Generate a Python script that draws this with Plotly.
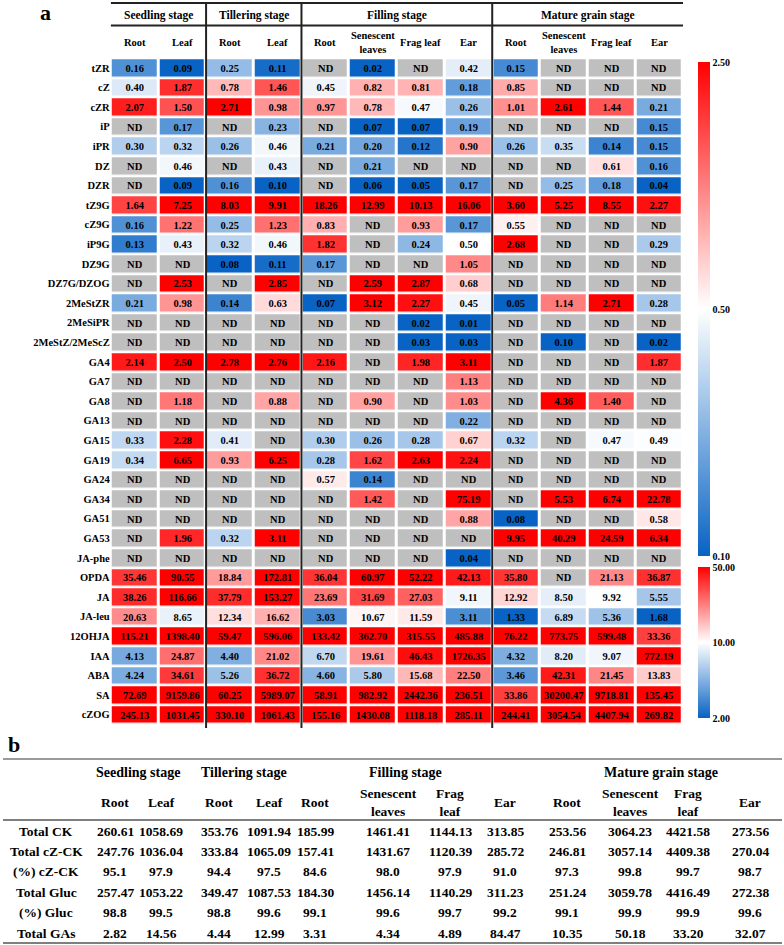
import math
import plotly.graph_objects as go

# ---------------- DATA ----------------
compounds = ["tZR", "cZ", "cZR", "iP", "iPR", "DZ", "DZR", "tZ9G", "cZ9G", "iP9G", "DZ9G",
             "DZ7G/DZOG", "2MeStZR", "2MeSiPR", "2MeStZ/2MeScZ", "GA4", "GA7", "GA8", "GA13",
             "GA15", "GA19", "GA24", "GA34", "GA51", "GA53", "JA-phe", "OPDA", "JA", "JA-leu",
             "12OHJA", "IAA", "ABA", "SA", "cZOG"]
ND = None
seedling_root = [0.16, 0.40, 2.07, ND, 0.30, ND, ND, 1.64, 0.16, 0.13, ND, ND, 0.21, ND, ND, 2.14, ND, ND, ND,
                 0.33, 0.34, ND, ND, ND, ND, ND, 35.46, 38.26, 20.63, 115.21, 4.13, 4.24, 72.69, 245.13]
seedling_leaf = [0.09, 1.87, 1.50, 0.17, 0.32, 0.46, 0.09, 7.25, 1.22, 0.43, ND, 2.53, 0.98, ND, ND, 2.50, ND, 1.18, ND,
                 2.28, 6.65, ND, ND, ND, 1.96, ND, 90.55, 116.66, 8.65, 1398.40, 24.87, 34.61, 9159.86, 1031.45]
tillering_root = [0.25, 0.78, 2.71, ND, 0.26, ND, 0.16, 8.03, 0.25, 0.32, 0.08, ND, 0.14, ND, ND, 2.78, ND, ND, ND,
                  0.41, 0.93, ND, ND, ND, 0.32, ND, 18.84, 37.79, 12.34, 59.47, 4.40, 5.26, 60.25, 330.10]
tillering_leaf = [0.11, 1.46, 0.98, 0.23, 0.46, 0.43, 0.10, 9.91, 1.23, 0.46, 0.11, 2.85, 0.63, ND, ND, 2.76, ND, 0.88, ND,
                  ND, 6.25, ND, ND, ND, 3.11, ND, 172.81, 153.27, 16.62, 596.06, 21.02, 36.72, 5989.07, 1061.43]
filling_root = [ND, 0.45, 0.97, ND, 0.21, ND, ND, 18.26, 0.83, 1.82, 0.17, ND, 0.07, ND, ND, 2.16, ND, ND, ND,
                0.30, 0.28, 0.57, ND, ND, ND, ND, 36.04, 23.69, 3.03, 133.42, 6.70, 4.60, 58.91, 155.16]
filling_senescent = [0.02, 0.82, 0.78, 0.07, 0.20, 0.21, 0.06, 12.99, ND, ND, ND, 2.59, 3.12, ND, ND, ND, ND, 0.90, ND,
                     0.26, 1.62, 0.14, 1.42, ND, ND, ND, 60.97, 31.69, 10.67, 362.70, 19.61, 5.80, 982.92, 1430.08]
filling_frag = [ND, 0.81, 0.47, 0.07, 0.12, ND, 0.05, 10.13, 0.93, 0.24, ND, 2.87, 2.27, 0.02, 0.03, 1.98, ND, ND, ND,
                0.28, 2.63, ND, ND, ND, ND, ND, 52.22, 27.03, 11.59, 315.55, 46.43, 15.68, 2442.36, 1118.18]
filling_ear = [0.42, 0.18, 0.26, 0.19, 0.90, ND, 0.17, 16.06, 0.17, 0.50, 1.05, 0.68, 0.45, 0.01, 0.03, 3.11, 1.13, 1.03, 0.22,
               0.67, 2.24, ND, 75.19, 0.88, ND, 0.04, 42.13, 9.11, 3.11, 485.88, 1726.35, 22.50, 236.51, 285.11]
mature_root = [0.15, 0.85, 1.01, ND, 0.26, ND, ND, 3.60, 0.55, 2.68, ND, ND, 0.05, ND, ND, ND, ND, ND, ND,
               0.32, ND, ND, ND, 0.08, 9.95, ND, 35.80, 12.92, 1.33, 76.22, 4.32, 3.46, 33.86, 244.41]
mature_senescent = [ND, ND, 2.61, ND, 0.35, ND, 0.25, 5.25, ND, ND, ND, ND, 1.14, ND, 0.10, ND, ND, 4.36, ND,
                    ND, ND, ND, 5.53, ND, 40.29, ND, ND, 8.50, 6.89, 773.75, 8.20, 42.31, 30200.47, 3054.54]
mature_frag = [ND, ND, 1.44, ND, 0.14, 0.61, 0.18, 8.55, ND, ND, ND, ND, 2.71, ND, ND, ND, ND, 1.40, ND,
               0.47, ND, ND, 6.74, ND, 24.59, ND, 21.13, 9.92, 5.36, 599.48, 9.07, 21.45, 9718.81, 4407.94]
mature_ear = [ND, ND, 0.21, 0.15, 0.15, 0.16, 0.04, 2.27, ND, 0.29, ND, ND, 0.28, ND, 0.02, 1.87, ND, ND, ND,
              0.49, ND, ND, 22.78, 0.58, 6.34, ND, 36.87, 5.55, 1.68, 33.36, 772.19, 13.83, 135.45, 269.82]

stages = ["Seedling stage", "Tillering stage", "Filling stage", "Mature grain stage"]
stage_cols = [2, 2, 4, 4]
tissues = ["Root", "Leaf", "Root", "Leaf", "Root", "Senescent<br>leaves", "Frag leaf", "Ear",
           "Root", "Senescent<br>leaves", "Frag leaf", "Ear"]
n_group1 = 26  # rows using the first colour scale (tZR .. JA-phe)
scale1_ticks = [2.50, 0.50, 0.10]
scale2_ticks = [50.00, 10.00, 2.00]

# table (panel b)
table_rows = ["Total CK", "Total cZ-CK", "(%) cZ-CK", "Total Gluc", "(%) Gluc", "Total GAs"]
total_ck = [260.61, 1058.69, 353.76, 1091.94, 185.99, 1461.41, 1144.13, 313.85, 253.56, 3064.23, 4421.58, 273.56]
total_czck = [247.76, 1036.04, 333.84, 1065.09, 157.41, 1431.67, 1120.39, 285.72, 246.81, 3057.14, 4409.38, 270.04]
pct_czck = [95.1, 97.9, 94.4, 97.5, 84.6, 98.0, 97.9, 91.0, 97.3, 99.8, 99.7, 98.7]
total_gluc = [257.47, 1053.22, 349.47, 1087.53, 184.30, 1456.14, 1140.29, 311.23, 251.24, 3059.78, 4416.49, 272.38]
pct_gluc = [98.8, 99.5, 98.8, 99.6, 99.1, 99.6, 99.7, 99.2, 99.1, 99.9, 99.9, 99.6]
total_gas = [2.82, 14.56, 4.44, 12.99, 3.31, 4.34, 4.89, 84.47, 10.35, 50.18, 33.20, 32.07]
table_tissues = ["Root", "Leaf", "Root", "Leaf", "Root", "Senescent<br>leaves", "Frag<br>leaf", "Ear",
                 "Root", "Senescent<br>leaves", "Frag<br>leaf", "Ear"]

# ---------------- LAYOUT CONSTANTS ----------------
W, H = 784, 945
FONT = "Liberation Serif"
BLUE = "rgb(8,99,196)"
RED = "rgb(255,0,0)"
GREY = "rgb(191,191,191)"
CELL_FS = 10.5
TAB_FS = 13.5

def py(ypix):
    return 1 - ypix / H

def px(xpix):
    return xpix / W

columns = [seedling_root, seedling_leaf, tillering_root, tillering_leaf,
           filling_root, filling_senescent, filling_frag, filling_ear,
           mature_root, mature_senescent, mature_frag, mature_ear]
for c in columns:
    assert len(c) == len(compounds)

nrow, ncol = len(compounds), len(columns)
z1, t1, z2, t2, z3, t3 = [], [], [], [], [], []
for r in range(nrow):
    a, b, c_, d, e, f = [], [], [], [], [], []
    for c in range(ncol):
        v = columns[c][r]
        if v is None:
            a.append(None); b.append(""); c_.append(None); d.append("")
            e.append(1); f.append("ND")
        else:
            txt = f"{v:.2f}"
            e.append(None); f.append("")
            if r < n_group1:
                a.append(math.log10(v)); b.append(txt); c_.append(None); d.append("")
            else:
                a.append(None); b.append(""); c_.append(math.log10(v)); d.append(txt)
    z1.append(a); t1.append(b); z2.append(c_); t2.append(d); z3.append(e); t3.append(f)

xs = list(range(ncol))
ys = list(range(nrow))
common = dict(x=xs, y=ys, xgap=3, ygap=2.6, texttemplate="<b>%{text}</b>",
              textfont=dict(family=FONT, size=CELL_FS, color="black"), hoverinfo="skip")

fig = go.Figure()
fig.add_trace(go.Heatmap(z=z3, text=t3, colorscale=[[0, GREY], [1, GREY]], showscale=False, **common))
fig.add_trace(go.Heatmap(z=z1, text=t1, coloraxis="coloraxis", **common))
fig.add_trace(go.Heatmap(z=z2, text=t2, coloraxis="coloraxis2", **common))

cscale = [[0, BLUE], [0.5, "white"], [1, RED]]
bar_common = dict(x=px(698), xanchor="left", lenmode="pixels", thickness=12, thicknessmode="pixels",
                  xpad=0, ypad=0, outlinewidth=0, ticks="", yanchor="top",
                  tickfont=dict(family=FONT, size=10, color="black"))
fig.update_layout(
    coloraxis=dict(colorscale=cscale, cmin=math.log10(min(scale1_ticks)), cmax=math.log10(max(scale1_ticks)),
                   colorbar=dict(y=py(62), len=494,
                                 tickvals=[math.log10(v) for v in scale1_ticks],
                                 ticktext=[f"<b>{v:.2f}</b>" for v in scale1_ticks], **bar_common)),
    coloraxis2=dict(colorscale=cscale, cmin=math.log10(min(scale2_ticks)), cmax=math.log10(max(scale2_ticks)),
                    colorbar=dict(y=py(567), len=151,
                                  tickvals=[math.log10(v) for v in scale2_ticks],
                                  ticktext=[f"<b>{v:.2f}</b>" for v in scale2_ticks], **bar_common)),
)

x_left, x_right = 110.7, 683.0
y_top, y_bot = 58.2, 724.6
fig.update_layout(
    width=W, height=H, margin=dict(l=0, r=0, t=0, b=0),
    paper_bgcolor="white", plot_bgcolor="white",
    xaxis=dict(domain=[px(x_left), px(x_right)], range=[-0.5, ncol - 0.5], visible=False),
    yaxis=dict(domain=[py(y_bot), py(y_top)], range=[nrow - 0.5, -0.5], tickmode="array",
               tickvals=ys, ticktext=[f"<b>{c}</b>" for c in compounds], ticks="", showgrid=False,
               zeroline=False, showline=False, tickfont=dict(family=FONT, size=CELL_FS, color="black")),
    font=dict(family=FONT, color="black"),
)

ann = []
shapes = []

def note(text, x, y, size, xref="paper", yref="paper", xanchor="center"):
    ann.append(dict(text=text, x=x, y=y, xref=xref, yref=yref, showarrow=False,
                    xanchor=xanchor, yanchor="middle", font=dict(size=size, family=FONT, color="black")))

# panel labels
note("<b>a</b>", px(45), py(13), 22)
note("<b>b</b>", px(14), py(744), 22)
# stage headers
start = 0
for s, n in zip(stages, stage_cols):
    note(f"<b>{s}</b>", start + (n - 1) / 2, py(16), 11.5, xref="x")
    if start > 0:
        shapes.append(dict(type="line", xref="x", yref="paper", x0=start - 0.5, x1=start - 0.5,
                           y0=py(728), y1=py(3), line=dict(color="#222", width=2)))
    start += n
for i, t in enumerate(tissues):
    note(f"<b>{t}</b>", i, py(43), CELL_FS, xref="x")
for yy in (3, 25.5):
    shapes.append(dict(type="line", xref="x", yref="paper", x0=-0.5, x1=ncol - 0.4, y0=py(yy), y1=py(yy),
                       line=dict(color="#222", width=2)))

# ---------------- TABLE (panel b) ----------------
tcol_x = [115, 161, 219, 269, 315, 388, 450, 505, 567, 630, 688, 750]
label_x = 46
stage_centers = [138, 244, 405, 661]
for s, xc in zip(stages, stage_centers):
    note(f"<b>{s}</b>", px(xc), py(772), 14)
for t, xc in zip(table_tissues, tcol_x):
    note(f"<b>{t}</b>", px(xc), py(802), TAB_FS)
table_vals = [(total_ck, 2), (total_czck, 2), (pct_czck, 1), (total_gluc, 2), (pct_gluc, 1), (total_gas, 2)]
row_y0, row_dy = 831, 20.4
for i, (name, (vals, dec)) in enumerate(zip(table_rows, table_vals)):
    yy = py(row_y0 + i * row_dy)
    note(f"<b>{name}</b>", px(label_x), yy, TAB_FS)
    for v, xc in zip(vals, tcol_x):
        note(f"<b>{v:.{dec}f}</b>", px(xc), yy, TAB_FS)
shapes.append(dict(type="line", xref="paper", yref="paper", x0=px(3), x1=px(782), y0=py(759), y1=py(759),
                   line=dict(color="#9a9a9a", width=2)))
shapes.append(dict(type="line", xref="paper", yref="paper", x0=px(3), x1=px(782), y0=py(820), y1=py(820),
                   line=dict(color="#555", width=1.5)))
shapes.append(dict(type="line", xref="paper", yref="paper", x0=px(3), x1=px(782), y0=py(943), y1=py(943),
                   line=dict(color="#555", width=1.5)))

fig.update_layout(annotations=ann, shapes=shapes)
# remove the browser's default 8px page margin so the figure fills the window exactly
fig.write_html("out.html", config={"displayModeBar": False},
               post_script="document.body.style.margin='0px';")
